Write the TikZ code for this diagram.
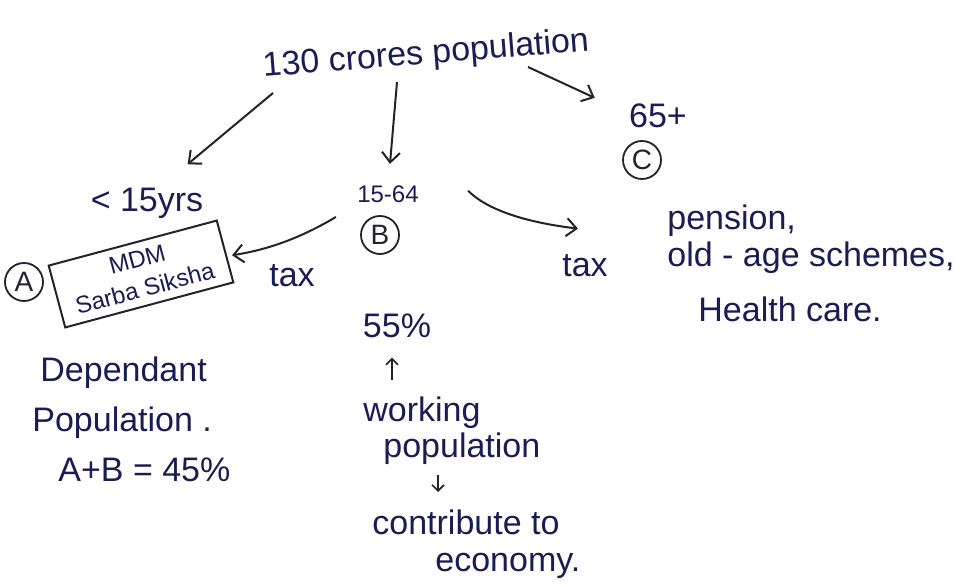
\documentclass[tikz,border=0pt]{standalone}
\usepackage{fontspec}
\setmainfont{Liberation Sans}
\usetikzlibrary{arrows.meta}
\definecolor{ink}{RGB}{28,28,85}
\definecolor{pen}{RGB}{35,35,45}
\begin{document}
\begin{tikzpicture}[x=0.5pt,y=-0.5pt,
  txt/.style={text=ink, inner sep=2pt, font=\fontsize{17}{20}\selectfont},
  circ/.style={draw=pen, line width=0.9pt, circle, minimum size=19pt, inner sep=0pt, text=pen, font=\fontsize{14}{16}\selectfont},
  arr/.style={draw=pen, line width=1pt, -{Straight Barb[length=5pt,width=9pt]}},
  sarr/.style={draw=pen, line width=0.8pt, -{Straight Barb[length=3pt,width=6pt]}},
  boxed/.style={draw=pen, line width=1pt, rotate=15, minimum width=87pt, minimum height=32pt, inner sep=1pt, align=center, text=ink, font=\fontsize{12}{15}\selectfont}
]
\fill[white] (0,0) rectangle (975,587);
\useasboundingbox (0,0) rectangle (975,587);

\node[txt, rotate=4.6] (top) at (426,55) {130 crores population};
\node[txt, anchor=base] (lt) at (147,212) {< 15yrs};
\node[txt, anchor=base, font=\fontsize{12}{14}\selectfont] (mid) at (388,203) {15-64};
\node[txt, anchor=base] (rt) at (658,128) {65+};
\node[circ] (A) at (24,282) {A};
\node[circ] (B) at (380,235) {B};
\node[circ] (C) at (642,160) {C};
\node[boxed] (box) at (141,274) {MDM\\Sarba Siksha};
\node[txt, anchor=base] (tax1) at (292,287) {tax};
\node[txt, anchor=base] (tax2) at (585,277) {tax};
\node[txt, anchor=north west, align=left, font=\fontsize{17}{18.5}\selectfont] (pen) at (663,200) {pension,\\old - age schemes,\\[9pt]\hspace*{15.5pt}Health care.};
\node[txt, anchor=north west, align=left, font=\fontsize{17}{25}\selectfont] (dep) at (28,352) {\hspace*{4pt}Dependant\\Population .\\\hspace*{13pt}A+B = 45\%};
\node[txt, anchor=base] (fifty) at (397,338) {55\%};
\node[txt, anchor=north west, align=left, font=\fontsize{17}{18}\selectfont] (work) at (359,392) {working\\\hspace*{10pt}population};
\node[txt, anchor=north west, align=left, font=\fontsize{17}{18.5}\selectfont] (contrib) at (368,505) {contribute to\\\hspace*{31.5pt}economy.};

\draw[arr] ([shift={(-153,38)}]top.center) -- ([shift={(-20,-20)}]lt.north east);
\draw[arr] ([shift={(-29,27)}]top.center) -- ([shift={(2,-18)}]mid.north);
\draw[arr] ([shift={(102,12)}]top.center) -- ([shift={(-30,-2)}]rt.north west);
\draw[arr] ([shift={(-30,-4)}]B.north west) .. controls +(-30,18) and +(40,-6) .. ([shift={(6,4)}]box.east);
\draw[arr] ([shift={(45,-4)}]mid.east) .. controls +(20,20) and +(-50,-6) .. ([shift={(-7,-22)}]tax2.north);
\draw[sarr] ([shift={(33,-12)}]work.north west) -- ([shift={(-5,15)}]fifty.south);
\draw[sarr] ([shift={(79,7)}]work.south west) -- ([shift={(70,-13)}]contrib.north west);
\end{tikzpicture}
\end{document}
